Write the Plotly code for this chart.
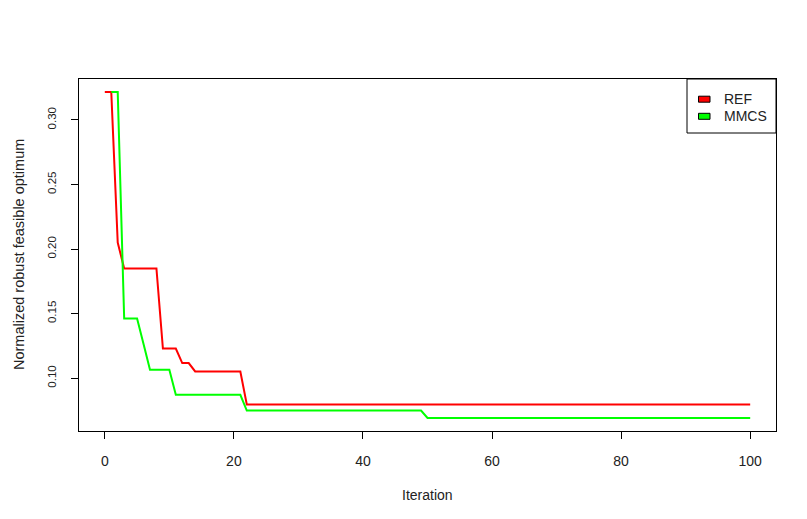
import plotly.graph_objects as go

# ---------------- data ----------------
series_names = ["REF", "MMCS"]
series_colors = ["#FF0000", "#00FF00"]

ref_iterations = list(range(0, 101))
ref_values = [
    0.3216, 0.3216, 0.2050, 0.1850, 0.1850, 0.1850, 0.1850, 0.1850, 0.1850, 0.1230,
    0.1230, 0.1230, 0.1117, 0.1117, 0.1052, 0.1052, 0.1052, 0.1052, 0.1052, 0.1052,
    0.1052, 0.1052, 0.0796, 0.0796, 0.0796, 0.0796, 0.0796, 0.0796, 0.0796, 0.0796,
    0.0796, 0.0796, 0.0796, 0.0796, 0.0796, 0.0796, 0.0796, 0.0796, 0.0796, 0.0796,
    0.0796, 0.0796, 0.0796, 0.0796, 0.0796, 0.0796, 0.0796, 0.0796, 0.0796, 0.0796,
    0.0796, 0.0796, 0.0796, 0.0796, 0.0796, 0.0796, 0.0796, 0.0796, 0.0796, 0.0796,
    0.0796, 0.0796, 0.0796, 0.0796, 0.0796, 0.0796, 0.0796, 0.0796, 0.0796, 0.0796,
    0.0796, 0.0796, 0.0796, 0.0796, 0.0796, 0.0796, 0.0796, 0.0796, 0.0796, 0.0796,
    0.0796, 0.0796, 0.0796, 0.0796, 0.0796, 0.0796, 0.0796, 0.0796, 0.0796, 0.0796,
    0.0796, 0.0796, 0.0796, 0.0796, 0.0796, 0.0796, 0.0796, 0.0796, 0.0796, 0.0796,
    0.0796,
]

mmcs_iterations = list(range(1, 101))
mmcs_values = [
    0.3216, 0.3216, 0.1462, 0.1462, 0.1462, 0.1265, 0.1065, 0.1065, 0.1065, 0.1065,
    0.0871, 0.0871, 0.0871, 0.0871, 0.0871, 0.0871, 0.0871, 0.0871, 0.0871, 0.0871,
    0.0871, 0.0749, 0.0749, 0.0749, 0.0749, 0.0749, 0.0749, 0.0749, 0.0749, 0.0749,
    0.0749, 0.0749, 0.0749, 0.0749, 0.0749, 0.0749, 0.0749, 0.0749, 0.0749, 0.0749,
    0.0749, 0.0749, 0.0749, 0.0749, 0.0749, 0.0749, 0.0749, 0.0749, 0.0749, 0.0692,
    0.0692, 0.0692, 0.0692, 0.0692, 0.0692, 0.0692, 0.0692, 0.0692, 0.0692, 0.0692,
    0.0692, 0.0692, 0.0692, 0.0692, 0.0692, 0.0692, 0.0692, 0.0692, 0.0692, 0.0692,
    0.0692, 0.0692, 0.0692, 0.0692, 0.0692, 0.0692, 0.0692, 0.0692, 0.0692, 0.0692,
    0.0692, 0.0692, 0.0692, 0.0692, 0.0692, 0.0692, 0.0692, 0.0692, 0.0692, 0.0692,
    0.0692, 0.0692, 0.0692, 0.0692, 0.0692, 0.0692, 0.0692, 0.0692, 0.0692, 0.0692,
]

x_tick_values = [0, 20, 40, 60, 80, 100]
x_tick_labels = ["0", "20", "40", "60", "80", "100"]
y_tick_values = [0.10, 0.15, 0.20, 0.25, 0.30]
y_tick_labels = ["0.10", "0.15", "0.20", "0.25", "0.30"]

x_title = "Iteration"
y_title = "Normalized robust feasible optimum"

# ---------------- layout geometry ----------------
OFF = 8                      # default body margin of the page
W, H = 807 - 2 * OFF, 519 - 2 * OFF
L, R, T, B = 79, 776, 79, 431  # plot box in page pixels
PW, PH = R - L, B - T

FONT = "Liberation Sans, Arial, sans-serif"
TXT = "#222222"


def px(xp):
    return (xp - L) / PW


def py(yp):
    return (B - yp) / PH


# R-style 4% range extension
all_y = ref_values + mmcs_values
ymin, ymax = min(all_y), max(all_y)
ypad = 0.04 * (ymax - ymin)
xmin, xmax = 0, 100
xpad = 0.04 * (xmax - xmin)

fig = go.Figure()
fig.add_trace(go.Scatter(x=ref_iterations, y=ref_values, mode="lines",
                         line=dict(color=series_colors[0], width=2),
                         name=series_names[0], showlegend=False))
fig.add_trace(go.Scatter(x=mmcs_iterations, y=mmcs_values, mode="lines",
                         line=dict(color=series_colors[1], width=2),
                         name=series_names[1], showlegend=False))

axis_common = dict(showline=True, linecolor="#000000", linewidth=1, mirror=True,
                   ticks="outside", ticklen=7, tickwidth=1, tickcolor="#000000",
                   showgrid=False, zeroline=False)

fig.update_xaxes(range=[xmin - xpad, xmax + xpad], tickmode="array",
                 tickvals=x_tick_values, ticktext=x_tick_labels,
                 tickfont=dict(family=FONT, size=14, color=TXT),
                 ticklabelstandoff=10, **axis_common)
fig.update_yaxes(range=[ymin - ypad, ymax + ypad], tickmode="array",
                 tickvals=y_tick_values, ticktext=y_tick_labels, tickangle=-90,
                 tickfont=dict(family=FONT, size=11.5, color=TXT),
                 ticklabelstandoff=10, **axis_common)

annotations = [
    dict(text=x_title, xref="paper", yref="paper", x=0.5, y=py(495),
         xanchor="center", yanchor="middle", showarrow=False,
         font=dict(family=FONT, size=14, color=TXT)),
    dict(text=y_title, xref="paper", yref="paper", x=px(19), y=0.5, textangle=-90,
         xanchor="center", yanchor="middle", showarrow=False,
         font=dict(family=FONT, size=14.5, color=TXT)),
]

shapes = [
    # legend frame
    dict(type="rect", xref="paper", yref="paper", x0=px(687), x1=px(776),
         y0=py(133), y1=py(79), line=dict(color="#000000", width=1),
         fillcolor="white", layer="above"),
]
legend_rows = [99.2, 116.3]
for name, color, yc in zip(series_names, series_colors, legend_rows):
    shapes.append(dict(type="rect", xref="paper", yref="paper",
                       x0=px(698.5), x1=px(710), y0=py(yc + 3), y1=py(yc - 3),
                       line=dict(color="#000000", width=1), fillcolor=color,
                       layer="above"))
    annotations.append(dict(text=name, xref="paper", yref="paper", x=px(722),
                            y=py(yc), xanchor="left", yanchor="middle",
                            showarrow=False,
                            font=dict(family=FONT, size=14, color=TXT)))

fig.update_layout(width=W, height=H,
                  margin=dict(l=L - OFF, r=(W + OFF) - R, t=T - OFF,
                              b=(H + OFF) - B, pad=0),
                  paper_bgcolor="white", plot_bgcolor="white",
                  showlegend=False, annotations=annotations, shapes=shapes)

fig.write_html("out.html")
